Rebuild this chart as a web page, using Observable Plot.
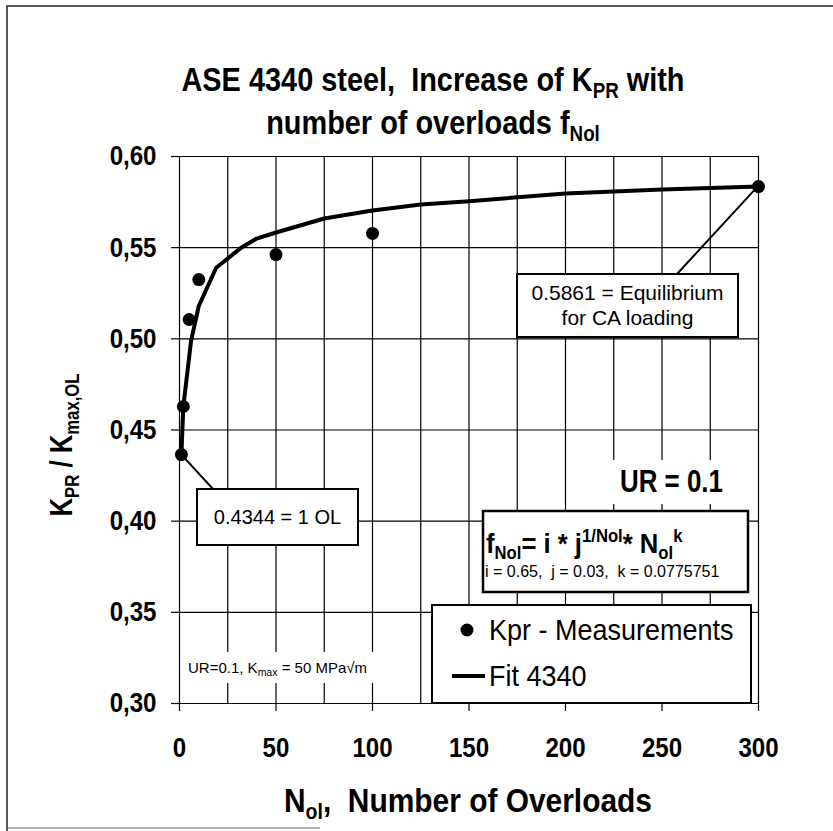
<!DOCTYPE html>
<html>
<head>
<meta charset="utf-8">
<script src="https://cdn.jsdelivr.net/npm/d3@7"></script>
<script src="https://cdn.jsdelivr.net/npm/@observablehq/plot@0.6"></script>
<style>
  body { margin: 0; background: #fff; }
  #wrap { position: relative; width: 833px; height: 831px; overflow: hidden; background: #fff; }
  #wrap svg { display: block; }
</style>
</head>
<body>
<div id="wrap"></div>
<script>
// ---- data ----
const xTicks = [0, 50, 100, 150, 200, 250, 300];
const xGrid = [0, 25, 50, 75, 100, 125, 150, 175, 200, 225, 250, 275, 300];
const yTicks = [0.30, 0.35, 0.40, 0.45, 0.50, 0.55, 0.60];

const measN = [1, 2, 5, 10, 50, 100, 300];
const measK = [0.4365, 0.4629, 0.5106, 0.5325, 0.5462, 0.5578, 0.5835];

const fitN = [1, 2, 6, 10, 19, 32, 40, 50, 75, 100, 125, 150, 200, 250, 300];
const fitK = [0.4372, 0.4630, 0.4990, 0.5180, 0.5390, 0.5500, 0.5550, 0.5583, 0.5660, 0.5704, 0.5737, 0.5755, 0.5797, 0.5819, 0.5835];

const meas = measN.map((n, i) => ({n, k: measK[i]}));
const fit = fitN.map((n, i) => ({n, k: fitK[i]}));

const FONT = "'Liberation Sans', Arial, Helvetica, sans-serif";

const plot = Plot.plot({
  width: 833,
  height: 831,
  marginLeft: 179,
  marginRight: 75,
  marginTop: 156,
  marginBottom: 128,
  x: {domain: [0, 300]},
  y: {domain: [0.30, 0.60]},
  style: {fontFamily: FONT, background: "#fff", color: "#000", overflow: "visible"},
  marks: [
    Plot.ruleX(xGrid, {stroke: "#000", strokeWidth: 1.2}),
    Plot.ruleY(yTicks, {stroke: "#000", strokeWidth: 1.2}),
    Plot.axisX({ticks: xTicks, tickSize: 8, tickPadding: 26, label: null, fontSize: 28, fontWeight: "bold",
      tickFormat: d => String(d), stroke: "#000", strokeWidth: 1.2}),
    Plot.axisY({ticks: yTicks, tickSize: 8, tickPadding: 15, label: null, fontSize: 28, fontWeight: "bold",
      tickFormat: d => d.toFixed(2).replace(".", ","), stroke: "#000", strokeWidth: 1.2}),
    Plot.line(fit, {x: "n", y: "k", stroke: "#000", strokeWidth: 4}),
    Plot.dot(meas, {x: "n", y: "k", r: 6.5, fill: "#000", stroke: "none"})
  ]
});
document.getElementById("wrap").appendChild(plot);

const svg = d3.select(plot);
const sx = plot.scale("x"), sy = plot.scale("y");
const X = v => sx.apply(v), Y = v => sy.apply(v);

// condense the bold tick labels horizontally (keeps their anchor position)
svg.selectAll('g[aria-label="x-axis tick label"] text, g[aria-label="y-axis tick label"] text')
  .each(function() {
    const w = this.getComputedTextLength();
    this.setAttribute("textLength", (w * 0.86).toFixed(2));
    this.setAttribute("lengthAdjust", "spacingAndGlyphs");
  });

const ov = svg.append("g").attr("font-family", FONT).attr("fill", "#000");

function rich(parent, x, y, parts, {size = 20, weight = "normal", anchor = "start", cx = 1, rotate = 0} = {}) {
  const t = parent.append("text")
    .attr("transform", `translate(${x},${y})${rotate ? ` rotate(${rotate})` : ""} scale(${cx},1)`)
    .attr("font-size", size).attr("font-weight", weight).attr("text-anchor", anchor)
    .attr("fill", "#000").style("white-space", "pre");
  let shift = 0;
  for (const p of parts) {
    const s = typeof p === "string" ? {t: p} : p;
    const target = s.sub ? 0.22 * size : s.sup ? -0.42 * size : 0;
    const ts = t.append("tspan").text(s.t).attr("dy", target - shift);
    if (s.sub || s.sup) ts.attr("font-size", (s.scale || 0.65) * size);
    shift = target;
  }
  return t;
}
function box(x, y, w, h, sw = 2) {
  ov.append("rect").attr("x", x).attr("y", y).attr("width", w).attr("height", h)
    .attr("fill", "#fff").attr("stroke", "#000").attr("stroke-width", sw);
}
function whiteBg(x, y, w, h) {
  ov.append("rect").attr("x", x).attr("y", y).attr("width", w).attr("height", h).attr("fill", "#fff");
}

// outer border (partial, as in the scan)
ov.append("path").attr("d", "M7,831 V6 H833").attr("fill", "none").attr("stroke", "#222").attr("stroke-width", 1.5);
ov.append("path").attr("d", "M7,828 H320").attr("fill", "none").attr("stroke", "#666").attr("stroke-width", 1);

// title
rich(ov, 433, 91, ["ASE 4340 steel,  Increase of K", {t: "PR", sub: true}, " with"],
  {size: 34, weight: "bold", anchor: "middle", cx: 0.85});
rich(ov, 433, 134, ["number of overloads f", {t: "Nol", sub: true}],
  {size: 34, weight: "bold", anchor: "middle", cx: 0.85});

// axis titles
rich(ov, 468, 812, ["N", {t: "ol", sub: true}, ",  Number of Overloads"],
  {size: 34, weight: "bold", anchor: "middle", cx: 0.88});
rich(ov, 72, 445, ["K", {t: "PR", sub: true}, " / K", {t: "max,OL", sub: true}],
  {size: 31, weight: "bold", anchor: "middle", cx: 0.83, rotate: -90});

// small condition note
whiteBg(184, 652, 192, 31);
rich(ov, 188, 673, ["UR=0.1, K", {t: "max", sub: true, scale: 0.7}, " = 50 MPa\u221Am"], {size: 15});

// UR = 0.1
whiteBg(606, 460, 136, 44);
rich(ov, 620, 492, ["UR = 0.1"], {size: 32, weight: "bold", cx: 0.81});

// annotation: first overload
const p1 = meas[0], pE = meas[meas.length - 1];
ov.append("line").attr("x1", X(p1.n)).attr("y1", Y(p1.k)).attr("x2", 213).attr("y2", 489)
  .attr("stroke", "#000").attr("stroke-width", 2);
box(197, 489, 161, 56);
rich(ov, 277.5, 524, ["0.4344 = 1 OL"], {size: 20, anchor: "middle"});

// annotation: equilibrium
ov.append("line").attr("x1", X(pE.n)).attr("y1", Y(pE.k)).attr("x2", 677).attr("y2", 274)
  .attr("stroke", "#000").attr("stroke-width", 2);
box(517, 274, 221, 63);
rich(ov, 627.5, 300, ["0.5861 = Equilibrium"], {size: 21, anchor: "middle"});
rich(ov, 627.5, 325, ["for CA loading"], {size: 21, anchor: "middle"});

// formula box
box(483, 511, 265, 81, 2.5);
rich(ov, 486, 553, ["f", {t: "Nol", sub: true}, "= i * j", {t: "1/Nol", sup: true}, "* N", {t: "ol", sub: true}, {t: "k", sup: true}],
  {size: 27, weight: "bold", cx: 0.95});
rich(ov, 485, 577, ["i = 0.65,  j = 0.03,  k = 0.0775751"], {size: 16});

// legend
box(432, 605, 319, 98, 2);
ov.append("circle").attr("cx", 467).attr("cy", 630).attr("r", 6.5).attr("fill", "#000");
rich(ov, 489, 640, ["Kpr - Measurements"], {size: 30, cx: 0.9});
ov.append("line").attr("x1", 452).attr("x2", 485).attr("y1", 676).attr("y2", 676)
  .attr("stroke", "#000").attr("stroke-width", 4);
rich(ov, 489, 686, ["Fit 4340"], {size: 30, cx: 0.9});
</script>
</body>
</html>
